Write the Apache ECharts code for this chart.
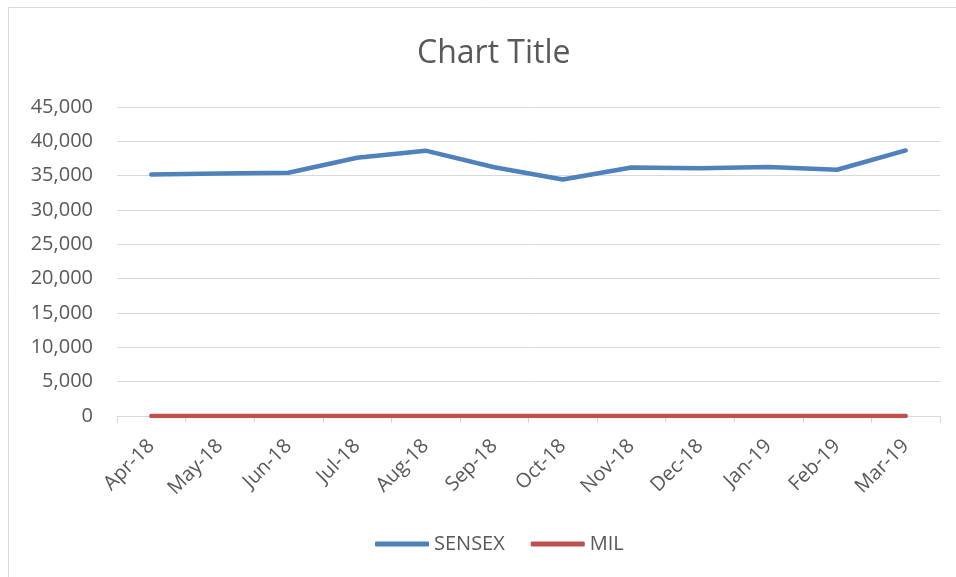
<!DOCTYPE html>
<html>
<head>
<meta charset="utf-8">
<script src="https://cdn.jsdelivr.net/npm/echarts@6/dist/echarts.min.js"></script>
<style>
  html, body { margin: 0; padding: 0; background: #fff; }
  #main { width: 956px; height: 577px; }
</style>
</head>
<body>
<div id="main"></div>
<script>
// 数据
var months = ['Apr-18', 'May-18', 'Jun-18', 'Jul-18', 'Aug-18', 'Sep-18',
              'Oct-18', 'Nov-18', 'Dec-18', 'Jan-19', 'Feb-19', 'Mar-19'];
var sensex = [35160, 35322, 35423, 37606, 38645, 36227, 34442, 36194, 36068, 36257, 35867, 38673];
var mil = [0, 0, 0, 0, 0, 0, 0, 0, 0, 0, 0, 0];
var yTicks = [0, 5000, 10000, 15000, 20000, 25000, 30000, 35000, 40000, 45000];

var fontFam = '"Open Sans", "Noto Sans", sans-serif';
var txtColor = '#595959';

var myChart = echarts.init(document.getElementById('main'));
var option = {
    animation: false,
    textStyle: { fontFamily: fontFam },
    title: {
        text: 'Chart Title',
        left: 412,
        top: 33,
        textStyle: { fontSize: 32, fontWeight: 'normal', color: txtColor, fontFamily: fontFam }
    },
    graphic: [{
        type: 'rect',
        shape: { x: 8.5, y: 7.5, width: 1000, height: 1000 },
        style: { fill: 'none', stroke: '#D9D9D9', lineWidth: 1 },
        silent: true
    }],
    legend: {
        bottom: 18,
        left: 370,
        itemWidth: 54,
        itemHeight: 5,
        itemGap: 26,
        icon: 'roundRect',
        textStyle: { fontSize: 20, color: txtColor, fontFamily: fontFam },
        data: ['SENSEX', 'MIL']
    },
    grid: { left: 117, right: 16, top: 107, bottom: 161 },
    xAxis: {
        type: 'category',
        data: months,
        boundaryGap: true,
        axisLine: { lineStyle: { color: '#D9D9D9', width: 1 } },
        axisTick: { show: true, length: 7, lineStyle: { color: '#D9D9D9' } },
        axisLabel: { rotate: 45, fontSize: 20, color: txtColor, margin: 27, fontFamily: fontFam }
    },
    yAxis: {
        type: 'value',
        min: yTicks[0],
        max: yTicks[yTicks.length - 1],
        interval: 5000,
        axisLine: { show: false },
        axisTick: { show: false },
        splitLine: { lineStyle: { color: '#D9D9D9', width: 1 } },
        axisLabel: {
            fontSize: 20, color: txtColor, margin: 24, fontFamily: fontFam,
            formatter: function (v) { return v.toLocaleString('en-US'); }
        }
    },
    series: [{
        name: 'SENSEX',
        type: 'line',
        data: sensex,
        symbol: 'none',
        lineStyle: { color: '#4F81BD', width: 4.5, cap: 'round', join: 'round' },
        itemStyle: { color: '#4F81BD' }
    }, {
        name: 'MIL',
        type: 'line',
        data: mil,
        symbol: 'none',
        lineStyle: { color: '#C0504D', width: 4.5, cap: 'round', join: 'round' },
        itemStyle: { color: '#C0504D' }
    }]
};
myChart.setOption(option);
</script>
</body>
</html>
